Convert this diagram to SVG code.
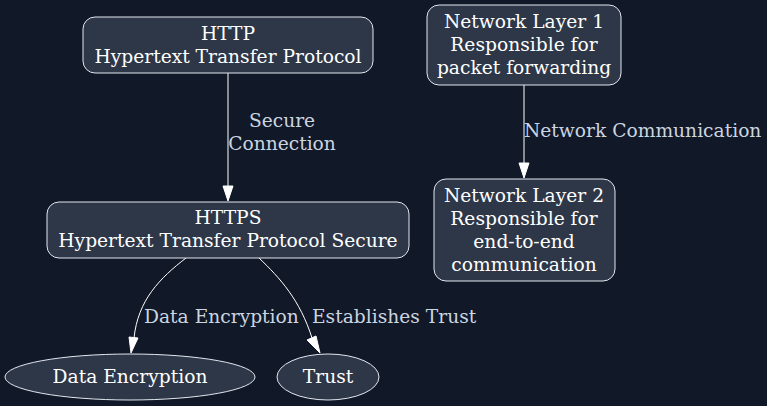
<svg xmlns="http://www.w3.org/2000/svg" width="767" height="406" viewBox="0 0 767 406">
<defs>
<style>
.bg{fill:#111827}
.nd{fill:#2d3748;stroke:#e2e8f0;stroke-width:1}
.t{font-family:"DejaVu Serif",serif;font-size:18.67px;fill:#ffffff;text-anchor:middle}
.el{font-family:"DejaVu Serif",serif;font-size:18.67px;fill:#cbd5e0}
.e{fill:none;stroke:#ffffff;stroke-width:1}
.ah{fill:#ffffff;stroke:#ffffff}
</style>
</defs>
<rect class="bg" x="0" y="0" width="767" height="406"/>
<g id="connectors">
<path class="e" d="M228,73 L228,188" />
<path class="ah" d="M223,186 L228,201 L233,186 Z"/>
<text class="el" x="282" y="127" text-anchor="middle">Secure</text>
<text class="el" x="282" y="150" text-anchor="middle">Connection</text>
<path class="e" d="M524,85 L524,164" />
<path class="ah" d="M519,163 L524,178 L529,163 Z"/>
<text class="el" x="524" y="137">Network Communication</text>
<path class="e" d="M186,258 C160,278 138,300 134,338" />
<path class="ah" d="M129,337 L131,353 L138,338 Z"/>
<text class="el" x="144" y="323">Data Encryption</text>
<path class="e" d="M259,258 C280,278 300,300 312,338" />
<path class="ah" d="M307,340 L320,353 L316,336 Z"/>
<text class="el" x="312" y="323">Establishes Trust</text>
</g>
<g id="http">
<rect class="nd" x="83" y="17" width="290" height="56" rx="12"/>
<text class="t" x="228" y="40">HTTP</text>
<text class="t" x="228" y="63">Hypertext Transfer Protocol</text>
</g>
<g id="net1">
<rect class="nd" x="427" y="5" width="194" height="80" rx="12"/>
<text class="t" x="524" y="28">Network Layer 1</text>
<text class="t" x="524" y="51">Responsible for</text>
<text class="t" x="524" y="74">packet forwarding</text>
</g>
<g id="https">
<rect class="nd" x="47" y="202" width="362" height="56" rx="12"/>
<text class="t" x="228" y="224">HTTPS</text>
<text class="t" x="228" y="247">Hypertext Transfer Protocol Secure</text>
</g>
<g id="net2">
<rect class="nd" x="434" y="179" width="181" height="102" rx="12"/>
<text class="t" x="524" y="202">Network Layer 2</text>
<text class="t" x="524" y="225">Responsible for</text>
<text class="t" x="524" y="248">end-to-end</text>
<text class="t" x="524" y="271">communication</text>
</g>
<g id="dataenc">
<ellipse class="nd" cx="130" cy="377" rx="125" ry="23"/>
<text class="t" x="130" y="383">Data Encryption</text>
</g>
<g id="trust">
<ellipse class="nd" cx="328" cy="377" rx="51" ry="23"/>
<text class="t" x="328" y="383">Trust</text>
</g>
</svg>
